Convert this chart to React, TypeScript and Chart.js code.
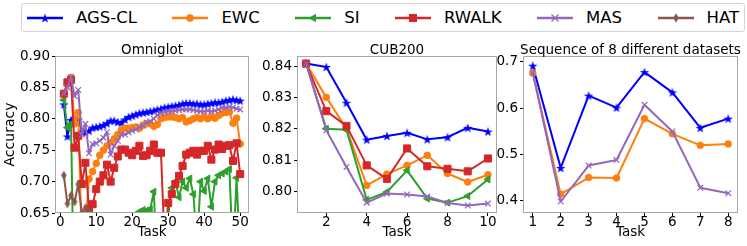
import React, { useEffect, useRef } from "react";
import { Chart, registerables } from "chart.js";

Chart.register(...registerables);

const FONT = "'DejaVu Sans', sans-serif";

// ---------------- data ----------------
const SERIES = ["AGS-CL", "EWC", "SI", "RWALK", "MAS", "HAT"];

// Omniglot (tasks 1..50)
const OMNI_AGS = [0.823, 0.772, 0.798, 0.800, 0.799, 0.781, 0.778, 0.781, 0.786, 0.787, 0.788, 0.790, 0.793, 0.797, 0.797, 0.795, 0.794, 0.799, 0.803, 0.805, 0.807, 0.809, 0.810, 0.811, 0.812, 0.813, 0.815, 0.816, 0.818, 0.819, 0.820, 0.821, 0.822, 0.824, 0.825, 0.825, 0.824, 0.824, 0.823, 0.823, 0.824, 0.825, 0.826, 0.826, 0.827, 0.829, 0.830, 0.831, 0.830, 0.829];
const OMNI_EWC = [0.840, 0.855, 0.866, 0.792, 0.810, 0.600, 0.630, 0.704, 0.716, 0.729, 0.742, 0.750, 0.757, 0.762, 0.768, 0.775, 0.782, 0.785, 0.785, 0.786, 0.787, 0.785, 0.790, 0.792, 0.792, 0.788, 0.791, 0.800, 0.802, 0.803, 0.803, 0.802, 0.800, 0.802, 0.795, 0.797, 0.800, 0.802, 0.800, 0.803, 0.800, 0.803, 0.801, 0.805, 0.809, 0.810, 0.811, 0.793, 0.801, 0.760];
const OMNI_SI = [0.830, 0.786, 0.792, 0.450, 0.450, 0.450, 0.450, 0.450, 0.450, 0.450, 0.450, 0.450, 0.450, 0.450, 0.450, 0.450, 0.450, 0.450, 0.450, 0.450, 0.500, 0.652, 0.655, 0.654, 0.656, 0.684, 0.550, 0.550, 0.550, 0.645, 0.690, 0.700, 0.675, 0.700, 0.690, 0.705, 0.680, 0.600, 0.700, 0.685, 0.705, 0.660, 0.700, 0.710, 0.713, 0.716, 0.720, 0.580, 0.706, 0.580];
const OMNI_RWALK = [0.840, 0.858, 0.862, 0.754, 0.773, 0.696, 0.730, 0.656, 0.664, 0.688, 0.700, 0.710, 0.727, 0.700, 0.722, 0.740, 0.751, 0.751, 0.746, 0.742, 0.749, 0.757, 0.741, 0.742, 0.749, 0.759, 0.746, 0.746, 0.600, 0.666, 0.680, 0.696, 0.709, 0.725, 0.743, 0.746, 0.749, 0.743, 0.749, 0.749, 0.757, 0.735, 0.751, 0.759, 0.752, 0.757, 0.758, 0.733, 0.761, 0.712];
const OMNI_MAS = [0.840, 0.850, 0.866, 0.836, 0.846, 0.775, 0.792, 0.745, 0.760, 0.761, 0.765, 0.770, 0.779, 0.743, 0.757, 0.765, 0.775, 0.775, 0.778, 0.781, 0.783, 0.787, 0.789, 0.794, 0.796, 0.800, 0.806, 0.809, 0.811, 0.812, 0.812, 0.813, 0.814, 0.815, 0.815, 0.815, 0.814, 0.813, 0.812, 0.812, 0.813, 0.812, 0.813, 0.815, 0.818, 0.818, 0.819, 0.818, 0.816, 0.815];
const OMNI_HAT = [0.710, 0.665, 0.678, 0.668, 0.696, 0.650, 0.658, 0.652, 0.630];

// CUB200 (tasks 1..10)
const CUB_AGS = [0.8408, 0.8397, 0.8283, 0.8165, 0.8177, 0.8187, 0.8166, 0.8173, 0.8203, 0.8191];
const CUB_EWC = [0.8408, 0.8300, 0.8200, 0.8019, 0.8055, 0.8083, 0.8115, 0.8057, 0.8030, 0.8053];
const CUB_SI = [0.8408, 0.8200, 0.8197, 0.7973, 0.7998, 0.8067, 0.7977, 0.7964, 0.7985, 0.8038];
const CUB_RWALK = [0.8408, 0.8256, 0.8209, 0.8083, 0.8040, 0.8137, 0.8080, 0.8072, 0.8064, 0.8105];
const CUB_MAS = [0.8408, 0.8195, 0.8078, 0.7964, 0.7993, 0.7990, 0.7984, 0.7963, 0.7955, 0.7961];

// Sequence of 8 different datasets (tasks 1..8)
const SEQ_AGS = [0.692, 0.470, 0.627, 0.601, 0.678, 0.634, 0.557, 0.577];
const SEQ_EWC = [0.676, 0.413, 0.449, 0.448, 0.577, 0.544, 0.519, 0.522];
const SEQ_MAS = [0.677, 0.397, 0.475, 0.487, 0.607, 0.549, 0.427, 0.415];

const TITLES = ["Omniglot", "CUB200", "Sequence of 8 different datasets"];
const X_LABEL = "Task";
const Y_LABEL = "Accuracy";

// ---------------- styles ----------------
const COLORS: Record<string, string> = {
  "AGS-CL": "#0000ff",
  EWC: "#ff7f0e",
  SI: "#2ca02c",
  RWALK: "#d62728",
  MAS: "#9467bd",
  HAT: "#8c564b",
};

function starPoints(cx: number, cy: number, R: number, ratio: number) {
  const pts: [number, number][] = [];
  for (let k = 0; k < 10; k++) {
    const r = k % 2 === 0 ? R : R * ratio;
    const a = -Math.PI / 2 + (k * Math.PI) / 5;
    pts.push([cx + r * Math.cos(a), cy + r * Math.sin(a)]);
  }
  return pts;
}

function makeStarCanvas(color: string, R: number) {
  const c = document.createElement("canvas");
  const s = 12;
  c.width = s;
  c.height = s;
  const ctx = c.getContext("2d")!;
  ctx.fillStyle = color;
  ctx.beginPath();
  starPoints(s / 2, s / 2 + 0.5, R, 0.4).forEach(([x, y], i) => (i ? ctx.lineTo(x, y) : ctx.moveTo(x, y)));
  ctx.closePath();
  ctx.fill();
  return c;
}

function makeThinDiamondCanvas(color: string) {
  const c = document.createElement("canvas");
  c.width = 8;
  c.height = 11;
  const ctx = c.getContext("2d")!;
  ctx.fillStyle = color;
  ctx.beginPath();
  ctx.moveTo(4, 0.8);
  ctx.lineTo(6.8, 5.5);
  ctx.lineTo(4, 10.2);
  ctx.lineTo(1.2, 5.5);
  ctx.closePath();
  ctx.fill();
  return c;
}

function seriesStyle(name: string) {
  const color = COLORS[name];
  switch (name) {
    case "AGS-CL":
      return { pointStyle: makeStarCanvas(color, 5), pointRadius: 4, rotation: 0, pbw: 0 };
    case "EWC":
      return { pointStyle: "circle", pointRadius: 3.3, rotation: 0, pbw: 1 };
    case "SI":
      return { pointStyle: "triangle", pointRadius: 4, rotation: -90, pbw: 1 };
    case "RWALK":
      return { pointStyle: "rect", pointRadius: 5, rotation: 0, pbw: 1 };
    case "MAS":
      return { pointStyle: "crossRot", pointRadius: 4, rotation: 0, pbw: 1.2 };
    default:
      return { pointStyle: makeThinDiamondCanvas(color), pointRadius: 4, rotation: 0, pbw: 0 };
  }
}

function makeDataset(name: string, values: number[]) {
  const color = COLORS[name];
  const st = seriesStyle(name);
  return {
    label: name,
    data: values.map((v, i) => ({ x: i + 1, y: v })),
    borderColor: color,
    backgroundColor: color,
    borderWidth: 2,
    borderJoinStyle: "round" as const,
    pointStyle: st.pointStyle as any,
    pointRadius: st.pointRadius,
    pointRotation: st.rotation,
    pointBorderWidth: st.pbw,
    pointBorderColor: color,
    pointBackgroundColor: color,
    pointHoverRadius: st.pointRadius,
    tension: 0,
    order: SERIES.length - 1 - SERIES.indexOf(name),
  };
}

// ---------------- plugins ----------------
const framePlugin = {
  id: "frameBox",
  afterDraw(chart: any) {
    const { ctx, chartArea } = chart;
    ctx.save();
    ctx.strokeStyle = "#a8a8a8";
    ctx.lineWidth = 1;
    ctx.strokeRect(
      Math.round(chartArea.left) + 0.5,
      Math.round(chartArea.top) + 0.5,
      Math.round(chartArea.right - chartArea.left) - 1,
      Math.round(chartArea.bottom - chartArea.top) - 1
    );
    ctx.restore();
  },
};

const panelTitlePlugin = {
  id: "panelTitle",
  afterDraw(chart: any, _args: any, opts: any) {
    if (!opts || !opts.text) return;
    const { ctx, chartArea } = chart;
    ctx.save();
    ctx.font = `13.5px ${FONT}`;
    ctx.fillStyle = "#000";
    ctx.textAlign = "center";
    ctx.textBaseline = "alphabetic";
    ctx.fillText(opts.text, (chartArea.left + chartArea.right) / 2, chartArea.top - 2);
    ctx.restore();
  },
};

type PanelSpec = {
  title: string;
  datasets: any[];
  xMin: number;
  xMax: number;
  xStep: number;
  yMin: number;
  yMax: number;
  yStep: number;
  yDecimals: number;
  yAxisWidth: number;
  rightPad: number;
  yTitle?: string;
};

function buildConfig(p: PanelSpec): any {
  const tickFont = { family: FONT, size: 13.5 };
  return {
    type: "line",
    data: { datasets: p.datasets },
    plugins: [framePlugin, panelTitlePlugin],
    options: {
      responsive: false,
      maintainAspectRatio: false,
      animation: false,
      devicePixelRatio: 1,
      layout: { padding: { top: 56, right: p.rightPad, bottom: 0, left: 0 } },
      plugins: {
        legend: { display: false },
        tooltip: { enabled: false },
        title: { display: false },
        panelTitle: { text: p.title },
      },
      scales: {
        x: {
          type: "linear",
          min: p.xMin,
          max: p.xMax,
          ticks: {
            stepSize: p.xStep,
            includeBounds: false,
            autoSkip: false,
            maxRotation: 0,
            font: tickFont,
            color: "#000",
            padding: -2,
            callback: (v: number) => String(Math.round(v)),
          },
          grid: { drawOnChartArea: false, drawTicks: true, tickLength: 3, tickColor: "#000", lineWidth: 1 },
          border: { display: false },
          title: {
            display: true,
            text: X_LABEL,
            color: "#000",
            font: { family: FONT, size: 13.5 },
            padding: { top: 0, bottom: 5 },
          },
          afterFit: (s: any) => {
            s.height = 33;
          },
        },
        y: {
          type: "linear",
          min: p.yMin,
          max: p.yMax,
          ticks: {
            stepSize: p.yStep,
            includeBounds: false,
            autoSkip: false,
            font: tickFont,
            color: "#000",
            padding: 2,
            callback: (v: number) => Number(v).toFixed(p.yDecimals),
          },
          grid: { drawOnChartArea: false, drawTicks: true, tickLength: 3, tickColor: "#000", lineWidth: 1 },
          border: { display: false },
          title: {
            display: !!p.yTitle,
            text: p.yTitle || "",
            color: "#000",
            font: { family: FONT, size: 14 },
            padding: { top: 2, bottom: 0 },
          },
          afterFit: (s: any) => {
            s.width = p.yAxisWidth;
          },
        },
      },
    },
  };
}

// ---------------- components ----------------
function Panel({ spec, left, width }: { spec: PanelSpec; left: number; width: number }) {
  const ref = useRef<HTMLCanvasElement | null>(null);
  useEffect(() => {
    if (!ref.current) return;
    const chart = new Chart(ref.current, buildConfig(spec));
    return () => chart.destroy();
  }, []);
  return (
    <canvas
      ref={ref}
      width={width}
      height={246}
      style={{ position: "absolute", left, top: 0, width, height: 246 }}
    />
  );
}

function LegendMarker({ name }: { name: string }) {
  const c = COLORS[name];
  const cx = 18;
  const cy = 8;
  let marker: React.ReactNode = null;
  if (name === "AGS-CL") {
    marker = <polygon points={starPoints(cx, cy + 0.5, 5, 0.4).map((p) => p.join(",")).join(" ")} fill={c} />;
  } else if (name === "EWC") {
    marker = <circle cx={cx} cy={cy} r={3.8} fill={c} />;
  } else if (name === "SI") {
    marker = <polygon points={`${cx - 4.5},${cy} ${cx + 3},${cy - 4.3} ${cx + 3},${cy + 4.3}`} fill={c} />;
  } else if (name === "RWALK") {
    marker = <rect x={cx - 4} y={cy - 4} width={8} height={8} fill={c} />;
  } else if (name === "MAS") {
    marker = (
      <g stroke={c} strokeWidth={1.2}>
        <line x1={cx - 3.5} y1={cy - 3.5} x2={cx + 3.5} y2={cy + 3.5} />
        <line x1={cx - 3.5} y1={cy + 3.5} x2={cx + 3.5} y2={cy - 3.5} />
      </g>
    );
  } else {
    marker = <polygon points={`${cx},${cy - 4.7} ${cx + 2.8},${cy} ${cx},${cy + 4.7} ${cx - 2.8},${cy}`} fill={c} />;
  }
  return (
    <svg width={36} height={16} style={{ display: "block", flex: "none" }}>
      <line x1={0} y1={cy} x2={36} y2={cy} stroke={c} strokeWidth={2.5} />
      {marker}
    </svg>
  );
}

function Legend() {
  return (
    <div
      style={{
        position: "absolute",
        left: 21,
        top: 3,
        width: 724,
        height: 29,
        boxSizing: "border-box",
        border: "1px solid #d4d4d4",
        borderRadius: 3,
        background: "#fff",
        display: "flex",
        alignItems: "center",
        paddingLeft: 5,
        fontFamily: FONT,
        fontSize: 16.5,
        color: "#000",
        zIndex: 5,
      }}
    >
      {SERIES.map((name) => (
        <div key={name} style={{ display: "flex", alignItems: "center", marginRight: 35.5 }}>
          <LegendMarker name={name} />
          <span style={{ marginLeft: 13, whiteSpace: "nowrap", lineHeight: "20px" }}>{name}</span>
        </div>
      ))}
    </div>
  );
}

export default function App() {
  const omni: PanelSpec = {
    title: TITLES[0],
    datasets: [
      makeDataset("AGS-CL", OMNI_AGS),
      makeDataset("EWC", OMNI_EWC),
      makeDataset("SI", OMNI_SI),
      makeDataset("RWALK", OMNI_RWALK),
      makeDataset("MAS", OMNI_MAS),
      makeDataset("HAT", OMNI_HAT),
    ],
    xMin: -1.45,
    xMax: 52.45,
    xStep: 10,
    yMin: 0.65,
    yMax: 0.9,
    yStep: 0.05,
    yDecimals: 2,
    yAxisWidth: 55,
    rightPad: 5,
    yTitle: Y_LABEL,
  };
  const cub: PanelSpec = {
    title: TITLES[1],
    datasets: [
      makeDataset("AGS-CL", CUB_AGS),
      makeDataset("EWC", CUB_EWC),
      makeDataset("SI", CUB_SI),
      makeDataset("RWALK", CUB_RWALK),
      makeDataset("MAS", CUB_MAS),
    ],
    xMin: 0.55,
    xMax: 10.45,
    xStep: 2,
    yMin: 0.7931,
    yMax: 0.8432,
    yStep: 0.01,
    yDecimals: 2,
    yAxisWidth: 47,
    rightPad: 8,
  };
  const seq: PanelSpec = {
    title: TITLES[2],
    datasets: [makeDataset("AGS-CL", SEQ_AGS), makeDataset("EWC", SEQ_EWC), makeDataset("MAS", SEQ_MAS)],
    xMin: 0.65,
    xMax: 8.35,
    xStep: 1,
    yMin: 0.372,
    yMax: 0.713,
    yStep: 0.1,
    yDecimals: 1,
    yAxisWidth: 33,
    rightPad: 9,
  };
  return (
    <div
      style={{
        position: "absolute",
        left: 0,
        top: 0,
        width: 747,
        height: 246,
        overflow: "hidden",
        background: "#fff",
      }}
    >
      <Panel spec={omni} left={0} width={255} />
      <Panel spec={cub} left={250} width={255} />
      <Panel spec={seq} left={490} width={257} />
      <Legend />
    </div>
  );
}
